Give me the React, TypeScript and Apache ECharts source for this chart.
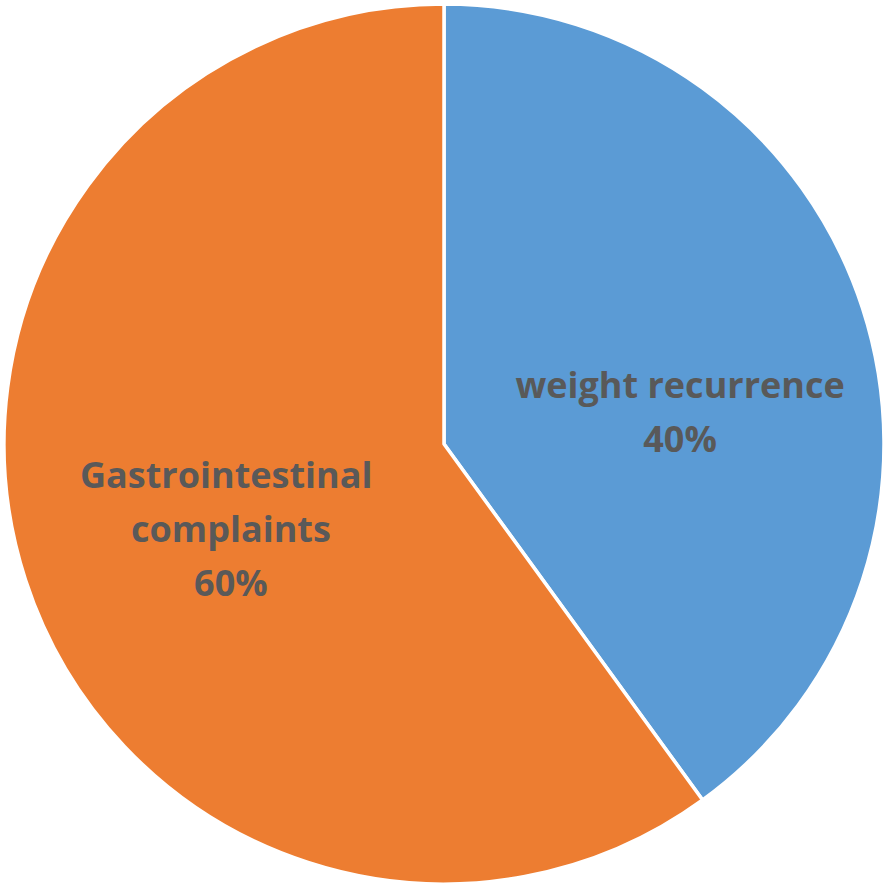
import React, { useEffect, useRef } from "react";
import * as echarts from "echarts";

const categories = ["weight recurrence", "Gastrointestinal complaints"];
const values = [40, 60];
const colors = ["#5B9BD5", "#ED7D31"];
const labelWidths = [400, 320];
const labelShift = [
  { dx: 24, dy: 36 },
  { dx: -1, dy: 16 },
];

export default function App() {
  const ref = useRef<HTMLDivElement>(null);

  useEffect(() => {
    if (!ref.current) return;
    const chart = echarts.init(ref.current, undefined, { renderer: "svg" });
    chart.setOption({
      animation: false,
      backgroundColor: "#ffffff",
      series: [
        {
          type: "pie",
          center: [444, 444],
          radius: [0, 440],
          startAngle: 90,
          clockwise: true,
          avoidLabelOverlap: false,
          itemStyle: { borderColor: "#ffffff", borderWidth: 3.5 },
          label: {
            show: true,
            position: "inside",
            formatter: "{b}\n{d}%",
            color: "#595959",
            fontFamily: "Open Sans",
            fontWeight: "bold",
            fontSize: 36,
            lineHeight: 54,
            align: "center",
            overflow: "break",
          },
          labelLine: { show: false },
          labelLayout: (params: any) => labelShift[params.dataIndex],
          data: categories.map((name, i) => ({
            name,
            value: values[i],
            itemStyle: { color: colors[i] },
            label: { width: labelWidths[i] },
          })),
        },
      ],
    });
    return () => chart.dispose();
  }, []);

  return (
    <div
      ref={ref}
      style={{ position: "fixed", left: 0, top: 0, width: 889, height: 886 }}
    />
  );
}
